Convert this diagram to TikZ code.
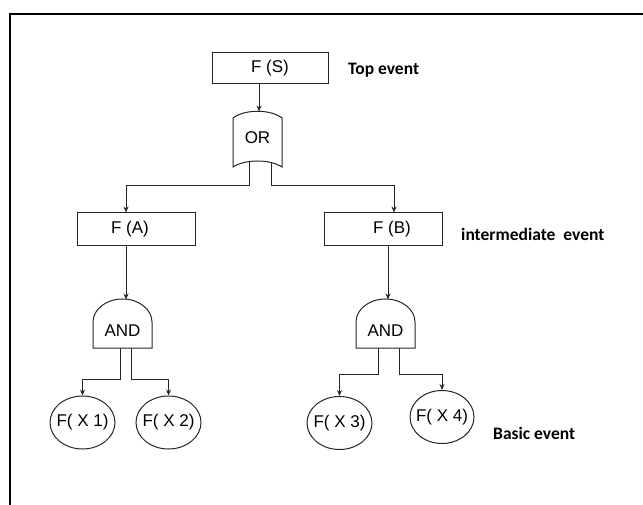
\documentclass[tikz,border=0pt]{standalone}
\usepackage{fontspec}
\setmainfont{Liberation Sans}
\newfontfamily\labfont{Carlito}
\usetikzlibrary{arrows.meta,shapes.geometric}

\tikzset{
  conn/.style={draw=black!85, line width=1pt},
  arr/.style={conn, -{Stealth[length=6pt,width=5pt]}},
  evbox/.style={draw=black!85, line width=1pt, rectangle, inner sep=0pt,
    font=\fontsize{17}{20}\selectfont},
  basic/.style={draw=black!85, line width=1pt, ellipse, inner xsep=-8pt, inner ysep=0pt,
    minimum width=65pt, minimum height=53pt, font=\fontsize{17}{20}\selectfont},
  gatesty/.style={draw=black!85, line width=1pt, fill=white},
  gatetext/.style={inner sep=0pt, font=\fontsize{17}{20}\selectfont},
  levellabel/.style={anchor=base west, inner sep=0pt,
    font=\labfont\bfseries\fontsize{17.5}{20}\selectfont},
}

\begin{document}
\begin{tikzpicture}[x=1pt, y=-1pt]
\useasboundingbox (0,0) rectangle (643,505);

% open frame
\draw[line width=2pt, black] (10,506) -- (10,14) -- (644,14);

% events
\node[evbox, minimum width=116pt, minimum height=31pt] (fs) at (270,68.5) {F (S)};
\node[evbox, minimum width=118pt, minimum height=33pt] (fa) at (136,229.5) {F (A)\hspace*{12pt}};
\node[evbox, minimum width=118pt, minimum height=33pt] (fb) at (383,229.5) {\hspace*{18pt}F (B)};

\node[basic] (x1) at (82.5,422.5) {F( X 1)};
\node[basic] (x2) at (168.5,422.5) {F( X 2)};
\node[basic] (x3) at (339.5,423) {F( X 3)};
\node[basic, minimum width=64pt] (x4) at (442,417) {F( X 4)};

% OR gate
\draw[gatesty] (233,118) .. controls (245,109) and (270,109) .. (282,118)
  -- (282,167) .. controls (270,159) and (245,159) .. (233,167) -- cycle;
\node[gatetext] (orgate) at (257.5,138) {OR};
\coordinate (orin) at (259,111.5);
\coordinate (orL) at (249,162.5);
\coordinate (orR) at (271,162.5);

% AND gates
\draw[gatesty] (93,348) -- (93,322) arc[start angle=180, end angle=0, x radius=29.5pt, y radius=23pt]
  -- (152,348) -- cycle;
\node[gatetext] (andL) at (122.5,331) {AND};
\coordinate (andLin) at (126,299.5);
\coordinate (andLl) at (120,348);
\coordinate (andLr) at (131,348);

\draw[gatesty] (356,348) -- (356,322) arc[start angle=180, end angle=0, x radius=29.5pt, y radius=23pt]
  -- (415,348) -- cycle;
\node[gatetext] (andR) at (385.5,331) {AND};
\coordinate (andRin) at (388,299.5);
\coordinate (andRl) at (378,348);
\coordinate (andRr) at (399,348);

% bus levels
\coordinate (busOR) at (0,186);
\coordinate (busL) at (0,379);
\coordinate (busR) at (0,374);

% connectors
\draw[arr] (fs.south -| orin) -- (orin);
\draw[arr] (orL) -- (orL |- busOR) -| ([xshift=-10pt]fa.north);
\draw[arr] (orR) -- (orR |- busOR) -| ([xshift=11pt]fb.north);
\draw[arr] (fa.south -| andLin) -- (andLin);
\draw[arr] (fb.south -| andRin) -- (andRin);
\draw[arr] (andLl) -- (andLl |- busL) -| (x1.north);
\draw[arr] (andLr) -- (andLr |- busL) -| (x2.north);
\draw[arr] (andRl) -- (andRl |- busR) -| (x3.north);
\draw[arr] (andRr) -- (andRr |- busR) -| (x4.north);

% level labels
\node[levellabel] (toplab) at (348,75) {Top event};
\node[levellabel] (midlab) at (461,240.5) {intermediate\ \ event};
\node[levellabel] (baslab) at (493,439) {Basic event};
\end{tikzpicture}
\end{document}
